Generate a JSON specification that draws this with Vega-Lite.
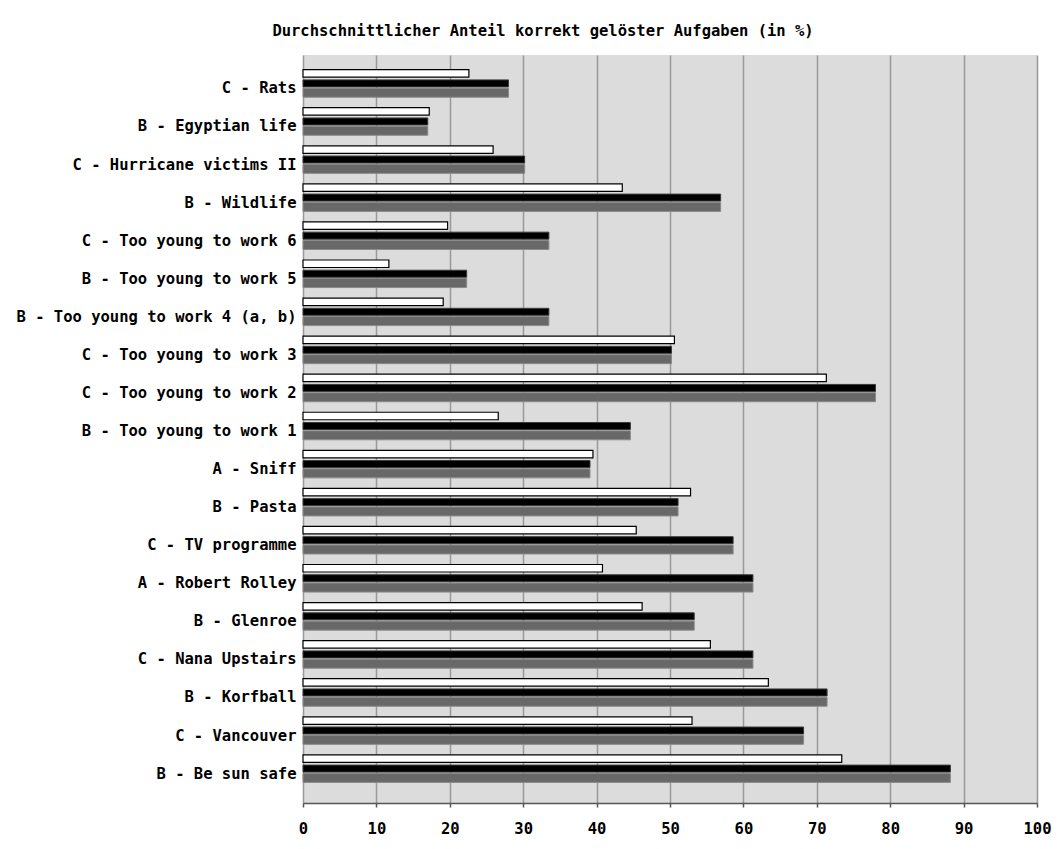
{
  "$schema": "https://vega.github.io/schema/vega-lite/v6.json",
  "autosize": "none",
  "width": 734,
  "height": 748,
  "padding": {"left": 303, "top": 55, "right": 26, "bottom": 46},
  "background": "white",
  "title": {
    "text": "Durchschnittlicher Anteil korrekt gelöster Aufgaben (in %)",
    "anchor": "middle",
    "dx": -127,
    "offset": 16,
    "font": "DejaVu Sans Mono",
    "fontSize": 15.5,
    "fontWeight": "bold",
    "color": "#000000"
  },
  "config": {
    "view": {"stroke": null, "fill": "#dcdcdc"},
    "axis": {
      "labelFont": "DejaVu Sans Mono",
      "labelFontSize": 15.5,
      "labelFontWeight": "bold",
      "labelColor": "#000000",
      "title": null
    }
  },
  "data": {
    "values": [
      {"task": "C - Rats", "a": 22.6, "b": 28.0},
      {"task": "B - Egyptian life", "a": 17.2, "b": 17.0},
      {"task": "C - Hurricane victims II", "a": 25.9, "b": 30.2},
      {"task": "B - Wildlife", "a": 43.5, "b": 56.9},
      {"task": "C - Too young to work 6", "a": 19.7, "b": 33.5},
      {"task": "B - Too young to work 5", "a": 11.7, "b": 22.3},
      {"task": "B - Too young to work 4 (a, b)", "a": 19.1, "b": 33.5},
      {"task": "C - Too young to work 3", "a": 50.6, "b": 50.2},
      {"task": "C - Too young to work 2", "a": 71.3, "b": 78.0},
      {"task": "B - Too young to work 1", "a": 26.6, "b": 44.6},
      {"task": "A - Sniff", "a": 39.5, "b": 39.1},
      {"task": "B - Pasta", "a": 52.8, "b": 51.1},
      {"task": "C - TV programme", "a": 45.4, "b": 58.6},
      {"task": "A - Robert Rolley", "a": 40.8, "b": 61.3},
      {"task": "B - Glenroe", "a": 46.2, "b": 53.3},
      {"task": "C - Nana Upstairs", "a": 55.5, "b": 61.3},
      {"task": "B - Korfball", "a": 63.4, "b": 71.4},
      {"task": "C - Vancouver", "a": 53.0, "b": 68.2},
      {"task": "B - Be sun safe", "a": 73.4, "b": 88.2}
    ]
  },
  "encoding": {
    "y": {
      "field": "task",
      "type": "nominal",
      "sort": null,
      "scale": {"paddingInner": 0, "paddingOuter": 0.325},
      "axis": {
        "domain": false,
        "ticks": false,
        "grid": false,
        "labelPadding": 7,
        "labelOffset": 2,
        "labelLimit": 400
      }
    }
  },
  "layer": [
    {
      "mark": {"type": "bar", "height": 9, "yOffset": 6.3, "fill": "#686868", "stroke": "#8a8a8a", "strokeWidth": 1},
      "encoding": {
        "x": {
          "field": "b",
          "type": "quantitative",
          "scale": {"domain": [0, 100], "nice": false, "zero": true},
          "axis": {
            "values": [0, 10, 20, 30, 40, 50, 60, 70, 80, 90, 100],
            "grid": true,
            "gridColor": "#999999",
            "gridWidth": 1.5,
            "gridOpacity": 1,
            "domainColor": "#555555",
            "domainWidth": 1.5,
            "tickColor": "#555555",
            "tickSize": 4,
            "tickWidth": 1.5,
            "labelPadding": 14,
            "labelAlign": "center",
            "labelFlush": false
          }
        }
      }
    },
    {
      "mark": {"type": "bar", "height": 7, "yOffset": -3, "fill": "#000000", "stroke": "#3a3a3a", "strokeWidth": 1},
      "encoding": {
        "x": {"field": "b", "type": "quantitative"}
      }
    },
    {
      "mark": {"type": "bar", "height": 7.5, "yOffset": -13, "fill": "#ffffff", "stroke": "#000000", "strokeWidth": 1.2},
      "encoding": {
        "x": {"field": "a", "type": "quantitative"}
      }
    }
  ]
}
